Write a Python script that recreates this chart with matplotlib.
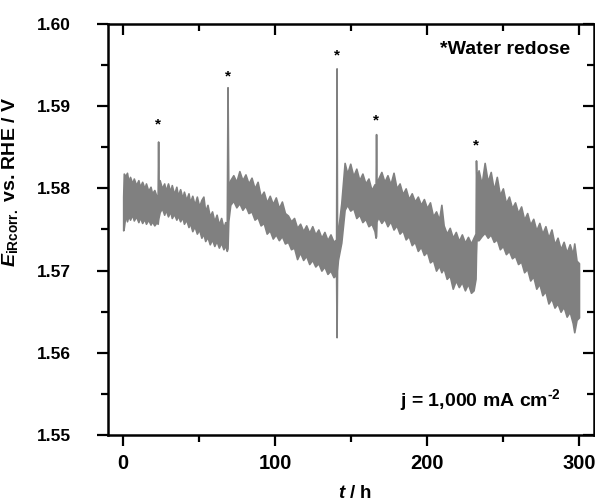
import matplotlib
matplotlib.use('Agg')
import matplotlib.pyplot as plt
from matplotlib.ticker import MultipleLocator, FormatStrFormatter

plt.rcParams['font.family'] = ['Liberation Sans', 'DejaVu Sans']
plt.rcParams['font.weight'] = 'bold'
plt.rcParams['mathtext.fontset'] = 'custom'
plt.rcParams['mathtext.rm'] = 'Liberation Sans:bold'
plt.rcParams['mathtext.it'] = 'Liberation Sans:italic:bold'
plt.rcParams['mathtext.bf'] = 'Liberation Sans:bold'

# ---- data: upper / lower envelope of the noisy trace ----
time_h = [
    0, 0.4, 1.5, 2.5, 3.5, 4.5, 6, 7, 8.5, 10, 11, 12.5, 14, 15, 16.5, 18, 19, 20.5, 22, 22.7,
    23.0, 23.3,
    24, 25.5, 27, 28, 29.5, 31, 32, 33.5, 35, 36, 37.5, 39, 40, 41.5, 43, 44, 45.5, 47, 48.5,
    50, 51.5, 52.8, 54, 55.5, 57, 58.5, 60, 61.5, 63, 64.5, 66, 67.2, 68.2,
    68.7,
    69.2, 70.5, 72.5, 74.5, 76.5, 78.5, 80.5, 82.5, 84.5, 86.5, 88.5, 90.5, 92.5, 94.5, 96.5,
    98.5, 100.5, 102.5, 104.5, 106.5, 108.5, 110.5, 112.5, 114.5, 116.5, 118.5, 120.5, 122.5,
    124.5, 126.5, 128.5, 130.5, 132.5, 134.5, 136.5, 138.5, 140.2,
    140.5, 140.8,
    141.4, 143.6, 145.8, 147.5, 149.5, 151.5, 153.5, 155.5, 157.5, 159.5, 161.5, 163.5, 165.5,
    166.2,
    166.5, 166.8,
    168, 170, 172, 174, 176, 178, 180, 182, 184, 186, 188, 190, 192, 194, 196, 198, 200, 202,
    204, 206, 208, 209.5, 211, 213, 215, 217, 219, 221, 223, 225, 227, 229, 230.7,
    232.0, 232.3, 232.6,
    234, 236, 238, 240, 242, 244, 246, 248, 250, 252, 254, 256, 258, 260, 262, 264, 266, 268,
    270, 272, 274, 276, 278, 280, 282, 284, 286, 288, 290, 292, 294, 296, 297, 298.5, 300.1]

v_upper = [
    1.5790, 1.5818, 1.5815, 1.5819, 1.5808, 1.5814, 1.5806, 1.5812, 1.5804, 1.5810,
    1.5802, 1.5808, 1.5800, 1.5806, 1.5797, 1.5802, 1.5794, 1.5798, 1.5790, 1.5792,
    1.5857, 1.5795,
    1.5810, 1.5800, 1.5806, 1.5797, 1.5806, 1.5796, 1.5804, 1.5793, 1.5802, 1.5791,
    1.5799, 1.5788, 1.5796, 1.5786, 1.5794, 1.5783, 1.5791, 1.5780, 1.5790, 1.5778,
    1.5786, 1.5790, 1.5772, 1.5780, 1.5766, 1.5772, 1.5760, 1.5768, 1.5756, 1.5764,
    1.5752, 1.5759, 1.5749,
    1.5923,
    1.5800, 1.5810, 1.5816, 1.5808, 1.5821, 1.5810, 1.5817, 1.5806, 1.5813, 1.5800,
    1.5808, 1.5790, 1.5796, 1.5783, 1.5791, 1.5781, 1.5789, 1.5776, 1.5784, 1.5770,
    1.5767, 1.5760, 1.5764, 1.5752, 1.5757, 1.5748, 1.5755, 1.5746, 1.5754, 1.5744,
    1.5750, 1.5740, 1.5747, 1.5737, 1.5744, 1.5735, 1.5738,
    1.5946, 1.5742,
    1.5747, 1.5782, 1.5831, 1.5818, 1.5830, 1.5815, 1.5824, 1.5810, 1.5818, 1.5806,
    1.5812, 1.5798, 1.5805, 1.5800,
    1.5866, 1.5805,
    1.5812, 1.5820, 1.5808, 1.5816, 1.5805, 1.5819, 1.5800, 1.5806, 1.5793, 1.5800,
    1.5787, 1.5794, 1.5784, 1.5790, 1.5780, 1.5787, 1.5776, 1.5783, 1.5766, 1.5772,
    1.5762, 1.5780, 1.5755, 1.5745, 1.5752, 1.5740, 1.5747, 1.5736, 1.5744, 1.5734,
    1.5741, 1.5733, 1.5740,
    1.5745, 1.5834, 1.5810,
    1.5822, 1.5805, 1.5831, 1.5808, 1.5820, 1.5798, 1.5814, 1.5792, 1.5800, 1.5782,
    1.5790, 1.5776, 1.5783, 1.5770, 1.5778, 1.5762, 1.5770, 1.5756, 1.5763, 1.5749,
    1.5758, 1.5745, 1.5754, 1.5740, 1.5750, 1.5732, 1.5740, 1.5726, 1.5735, 1.5722,
    1.5732, 1.5720, 1.5733, 1.5712, 1.5709]

v_lower = [
    1.5749, 1.5752, 1.5768, 1.5760, 1.5767, 1.5762, 1.5768, 1.5761, 1.5766, 1.5759,
    1.5765, 1.5758, 1.5763, 1.5757, 1.5762, 1.5756, 1.5760, 1.5755, 1.5759, 1.5757,
    1.5762, 1.5765,
    1.5771, 1.5776, 1.5768, 1.5774, 1.5766, 1.5772, 1.5764, 1.5769, 1.5762, 1.5767,
    1.5760, 1.5765, 1.5757, 1.5762, 1.5753, 1.5758, 1.5748, 1.5754, 1.5745, 1.5750,
    1.5740, 1.5745, 1.5736, 1.5741, 1.5732, 1.5738, 1.5730, 1.5736, 1.5728, 1.5734,
    1.5726, 1.5731, 1.5724,
    1.5727,
    1.5760, 1.5780, 1.5785, 1.5777, 1.5782, 1.5774, 1.5779, 1.5770, 1.5772, 1.5762,
    1.5765, 1.5755, 1.5758, 1.5745, 1.5749, 1.5739, 1.5744, 1.5737, 1.5742, 1.5733,
    1.5735, 1.5726, 1.5728, 1.5714, 1.5722, 1.5713, 1.5718, 1.5708, 1.5713, 1.5705,
    1.5709, 1.5700, 1.5705, 1.5696, 1.5700, 1.5692, 1.5695,
    1.5619, 1.5700,
    1.5713, 1.5734, 1.5774, 1.5780, 1.5773, 1.5776, 1.5764, 1.5768, 1.5759, 1.5763,
    1.5754, 1.5757, 1.5748, 1.5740,
    1.5742, 1.5760,
    1.5765, 1.5758, 1.5763, 1.5754, 1.5760, 1.5750, 1.5755, 1.5745, 1.5749, 1.5738,
    1.5742, 1.5731, 1.5735, 1.5724, 1.5729, 1.5719, 1.5723, 1.5710, 1.5713, 1.5700,
    1.5706, 1.5698, 1.5703, 1.5690, 1.5694, 1.5678, 1.5688, 1.5680, 1.5686, 1.5676,
    1.5684, 1.5673, 1.5676,
    1.5690, 1.5720, 1.5737,
    1.5737, 1.5742, 1.5746, 1.5740, 1.5744, 1.5735, 1.5738, 1.5726, 1.5730, 1.5720,
    1.5724, 1.5715, 1.5718, 1.5708, 1.5711, 1.5698, 1.5702, 1.5688, 1.5693, 1.5678,
    1.5684, 1.5670, 1.5675, 1.5660, 1.5666, 1.5655, 1.5660, 1.5650, 1.5656, 1.5644,
    1.5650, 1.5636, 1.5625, 1.5640, 1.5643]

# water redose markers (time, voltage of the asterisk)
redose_t = [23.0, 68.7, 140.5, 166.5, 232.3]
redose_v = [1.5878, 1.5936, 1.5962, 1.5883, 1.5852]

x_ticks = [0, 100, 200, 300]
y_ticks = [1.55, 1.56, 1.57, 1.58, 1.59, 1.60]

fig = plt.figure(figsize=(5.95, 5.01), dpi=100)
ax = fig.add_axes([108 / 595, 1 - 435 / 501, (594 - 108) / 595, (435 - 24) / 501])

gray = '#808080'
ax.fill_between(time_h, v_lower, v_upper, color=gray, edgecolor=gray, linewidth=1.2)

for t, v in zip(redose_t, redose_v):
    ax.text(t, v, '*', ha='center', va='center', fontsize=11, fontweight='bold', color='black')

ax.set_xlim(-10, 310)
ax.set_ylim(1.55, 1.60)
ax.set_xticks(x_ticks)
ax.set_yticks(y_ticks)
ax.xaxis.set_minor_locator(MultipleLocator(50))
ax.yaxis.set_minor_locator(MultipleLocator(0.005))
ax.yaxis.set_major_formatter(FormatStrFormatter('%.2f'))

for s in ax.spines.values():
    s.set_linewidth(1.8)

ax.tick_params(axis='both', which='major', length=8, width=1.6, direction='out')
ax.tick_params(axis='both', which='minor', length=5, width=1.6, direction='out')
ax.tick_params(axis='x', which='major', labelsize=14.5, pad=6)
ax.tick_params(axis='y', which='major', labelsize=12.5, pad=19)
ax.tick_params(top=True, right=True, which='both')
for tk in ax.xaxis.get_major_ticks() + ax.xaxis.get_minor_ticks():
    tk.tick2line.set_marker(3)
for tk in ax.yaxis.get_major_ticks() + ax.yaxis.get_minor_ticks():
    tk.tick2line.set_marker(0)
for lab in ax.get_xticklabels() + ax.get_yticklabels():
    lab.set_fontweight('bold')

ax.set_xlabel(r'$\mathit{t}$ / h', fontsize=13.5, fontweight='bold')
ax.xaxis.set_label_coords(0.508, -0.122)
ax.set_ylabel(r'$\mathit{E}_{\mathrm{iRcorr.}}$ vs. RHE / V', fontsize=14, fontweight='bold')
ax.yaxis.set_label_coords(-0.181, 0.616)

ax.text(0.951, 0.937, '*Water redose', transform=ax.transAxes, ha='right', va='center',
        fontsize=14, fontweight='bold')
ax.text(0.932, 0.07, r'j = 1,000 mA cm$^{\text{-2}}$', transform=ax.transAxes, ha='right',
        va='baseline', fontsize=14, fontweight='bold')

fig.savefig('out.png', dpi=100)
